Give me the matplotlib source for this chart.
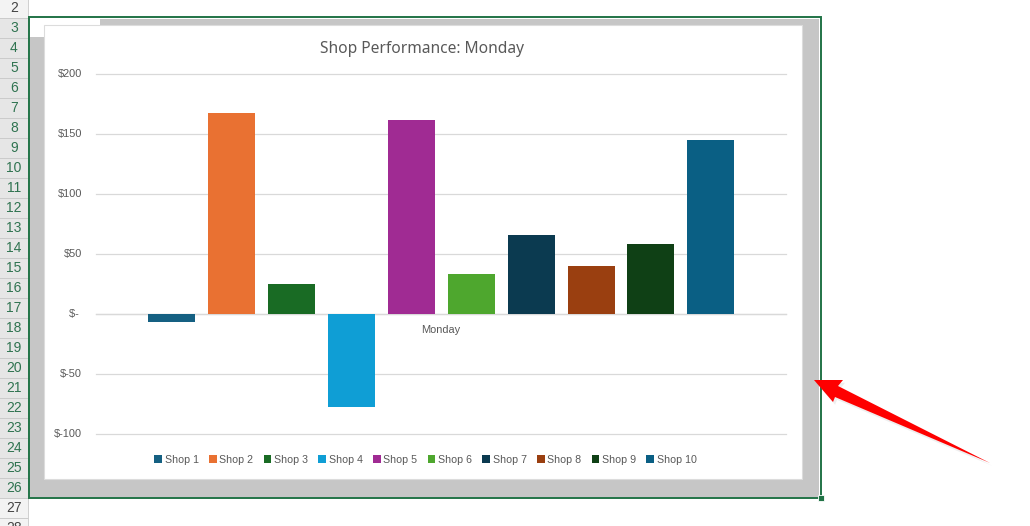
import matplotlib
matplotlib.use("Agg")
import matplotlib.pyplot as plt
import matplotlib.patheffects as pe
from matplotlib.patches import Patch, Polygon, Rectangle
from matplotlib.transforms import ScaledTranslation

W, H = 1030, 526

shops = ["Shop 1", "Shop 2", "Shop 3", "Shop 4", "Shop 5",
         "Shop 6", "Shop 7", "Shop 8", "Shop 9", "Shop 10"]
monday = [-7, 168, 25, -78, 162, 33, 66, 40, 58, 145]
colors = ["#156082", "#E97132", "#196B24", "#0F9ED5", "#A02B93",
          "#4EA72E", "#0B3A50", "#9A3F10", "#0F4015", "#0A5F84"]
y_ticks = [-100, -50, 0, 50, 100, 150, 200]
y_labels = ["$-100", "$-50", "$- ", "$50", "$100", "$150", "$200"]
row_numbers = list(range(2, 29))

plt.rcParams["font.family"] = ["Liberation Sans", "DejaVu Sans"]

fig = plt.figure(figsize=(W / 100, H / 100), dpi=100, facecolor="white")

# background layer in pixel coords: row headers, grey band, selection frame
bg = fig.add_axes([0, 0, 1, 1], zorder=0)
bg.set_xlim(0, W)
bg.set_ylim(H, 0)
bg.axis("off")

for n in row_numbers:
    top = (n - 2) * 20 - 2
    selected = 3 <= n <= 26
    bg.add_patch(Rectangle((-2, top), 30, 20, fc="#e6e6e6" if selected else "#f3f3f3",
                           ec="#c9c9c9", lw=0.6))
    bg.text(14, top + 10.5, str(n), ha="center", va="center", fontsize=10,
            color="#2f7350" if selected else "#444444")

bg.add_patch(Rectangle((30, 19), 789, 478, fc="#c6c6c6", ec="none"))
bg.add_patch(Rectangle((30, 19), 70, 18, fc="white", ec="none"))
bg.add_patch(Rectangle((44, 25), 757.5, 454, fc="white", ec="#dcdcdc", lw=0.8))
bg.add_patch(Rectangle((28.5, 17), 792, 481, fc="none", ec="#217346", lw=1.4))
bg.add_patch(Rectangle((817.5, 494.5), 6, 6, fc="#217346", ec="white", lw=0.6))

bg.text(422.5, 49, "Shop Performance: Monday", ha="center", va="center",
        fontsize=11.2, color="#595959", family=["Noto Sans", "DejaVu Sans"])

# the chart itself
left, right, top, bottom = 96, 786, 74.5, 433.5
ax = fig.add_axes([left / W, 1 - bottom / H, (right - left) / W, (bottom - top) / H], zorder=1)
ax.patch.set_alpha(0)

step = 59.9 / (right - left)
bar_w = 47 / (right - left)
for i, (shop, val, col) in enumerate(zip(shops, monday, colors)):
    ax.bar((i - 4.5) * step + 0.0005, val, width=bar_w, color=col, label=shop, zorder=3)

ax.set_xlim(-0.5, 0.5)
ax.set_ylim(-100, 200)
ax.set_yticks(y_ticks)
ax.set_yticklabels(y_labels)
ax.set_xticks([0])
ax.set_xticklabels(["Monday"])
ax.grid(axis="y", color="#d9d9d9", lw=0.9, zorder=0, clip_on=False)
ax.set_axisbelow(True)
for side in ["top", "right", "left"]:
    ax.spines[side].set_visible(False)
ax.spines["bottom"].set_position(("data", 0))
ax.spines["bottom"].set_color("#d9d9d9")
ax.spines["bottom"].set_linewidth(0.9)
ax.tick_params(axis="y", length=0, pad=10, labelsize=7.9, labelcolor="#595959")
ax.tick_params(axis="x", length=0, pad=8, labelsize=7.9, labelcolor="#595959")
# nudge y labels up a pixel
for lab in ax.get_yticklabels():
    lab.set_transform(lab.get_transform() + ScaledTranslation(0, 0.01, fig.dpi_scale_trans))

handles = [Patch(fc=c, ec="none", label=s) for s, c in zip(shops, colors)]
leg = fig.legend(handles=handles, ncol=10, loc="center", frameon=False,
                 bbox_to_anchor=(425.5 / W, 1 - 460 / H), fontsize=7.7,
                 handlelength=0.72, handleheight=0.72, handletextpad=0.24,
                 columnspacing=0.97, labelcolor="#595959")

# red annotation arrow on top
top_ax = fig.add_axes([0, 0, 1, 1], zorder=2)
top_ax.set_xlim(0, W)
top_ax.set_ylim(H, 0)
top_ax.axis("off")
arrow = Polygon([(814, 380), (843, 380), (838, 386), (990, 463), (835, 397), (833, 402)],
                closed=True, fc="#fe0000", ec="none")
arrow.set_path_effects([pe.SimplePatchShadow(offset=(1.5, -2), alpha=0.12, shadow_rgbFace="#777777"),
                        pe.Normal()])
top_ax.add_patch(arrow)

fig.savefig("out.png", dpi=100)
